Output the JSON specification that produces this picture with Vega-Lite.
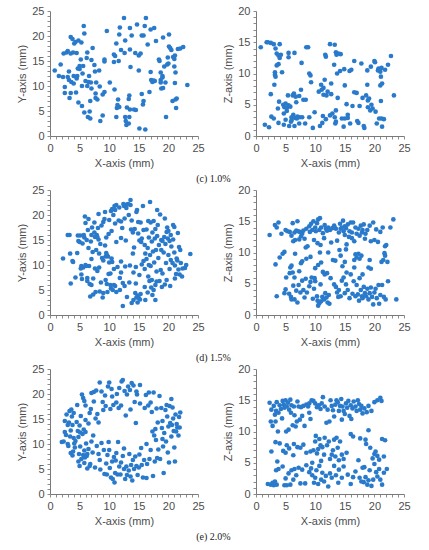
{
  "$schema": "https://vega.github.io/schema/vega-lite/v6.json",
  "padding": {"left": 16, "top": 5, "right": 5, "bottom": 5},
  "background": "white",
  "spacing": 0,
  "config": {
    "view": {"stroke": null},
    "axis": {"grid": false, "domainColor": "#7a7a7a", "tickColor": "#8c8c8c", "labelColor": "#4d4d4d", "titleColor": "#4d4d4d", "labelFont": "Liberation Sans", "titleFont": "Liberation Sans", "labelFontSize": 11, "titleFontSize": 11, "titleFontWeight": "normal", "tickSize": 3, "labelPadding": 3, "labelFlush": false},
    "title": {"font": "Liberation Serif", "fontSize": 10, "fontWeight": "normal", "color": "#222222", "orient": "bottom", "anchor": "middle", "offset": 6},
    "concat": {"spacing": 17},
    "circle": {"size": 22, "opacity": 1, "color": "#2a7acb"}
  },
  "datasets": {
    "c1": [{"x":0.8,"y":13.1},{"x":1.5,"y":12.0},{"x":1.8,"y":14.3},{"x":2.2,"y":11.8},{"x":2.3,"y":16.5},{"x":2.5,"y":9.8},{"x":2.5,"y":8.6},{"x":2.8,"y":16.7},{"x":3.0,"y":11.8},{"x":3.0,"y":17.0},{"x":3.2,"y":12.9},{"x":3.2,"y":11.2},{"x":3.3,"y":7.6},{"x":3.5,"y":8.6},{"x":3.5,"y":16.5},{"x":3.5,"y":19.8},{"x":3.6,"y":10.8},{"x":3.8,"y":19.4},{"x":3.9,"y":16.7},{"x":4.0,"y":12.0},{"x":4.0,"y":10.5},{"x":4.1,"y":18.5},{"x":4.3,"y":18.8},{"x":4.4,"y":8.7},{"x":4.5,"y":16.6},{"x":4.5,"y":11.5},{"x":4.6,"y":12.0},{"x":4.7,"y":13.5},{"x":4.8,"y":19.1},{"x":4.8,"y":6.7},{"x":5.0,"y":14.0},{"x":5.0,"y":13.4},{"x":5.2,"y":15.3},{"x":5.3,"y":18.7},{"x":5.4,"y":10.0},{"x":5.4,"y":6.0},{"x":5.5,"y":12.5},{"x":5.6,"y":14.0},{"x":5.7,"y":22.0},{"x":5.8,"y":20.5},{"x":5.8,"y":4.7},{"x":6.0,"y":11.0},{"x":6.2,"y":15.6},{"x":6.3,"y":16.7},{"x":6.3,"y":10.0},{"x":6.4,"y":3.8},{"x":6.5,"y":10.8},{"x":6.6,"y":12.0},{"x":6.7,"y":4.9},{"x":6.8,"y":3.5},{"x":6.8,"y":7.0},{"x":6.9,"y":10.7},{"x":7.0,"y":9.5},{"x":7.0,"y":15.2},{"x":7.2,"y":17.6},{"x":7.5,"y":14.2},{"x":7.6,"y":12.9},{"x":7.7,"y":8.5},{"x":7.7,"y":7.6},{"x":7.8,"y":10.7},{"x":8.0,"y":7.3},{"x":8.3,"y":13.1},{"x":8.4,"y":9.9},{"x":8.5,"y":3.0},{"x":8.9,"y":4.1},{"x":8.9,"y":8.3},{"x":9.2,"y":8.8},{"x":9.2,"y":14.9},{"x":9.2,"y":15.3},{"x":9.6,"y":21.0},{"x":10.1,"y":10.7},{"x":10.8,"y":14.8},{"x":10.8,"y":16.3},{"x":10.9,"y":9.3},{"x":11.0,"y":16.0},{"x":11.2,"y":3.8},{"x":11.2,"y":18.5},{"x":11.3,"y":5.6},{"x":11.4,"y":6.2},{"x":11.5,"y":7.3},{"x":11.6,"y":15.0},{"x":11.7,"y":5.8},{"x":11.7,"y":20.3},{"x":11.8,"y":21.7},{"x":12.0,"y":17.2},{"x":12.5,"y":23.6},{"x":12.6,"y":16.6},{"x":12.7,"y":19.1},{"x":12.7,"y":3.8},{"x":12.8,"y":3.0},{"x":12.9,"y":2.2},{"x":13.0,"y":5.7},{"x":13.3,"y":7.4},{"x":13.3,"y":2.5},{"x":13.4,"y":3.8},{"x":13.4,"y":8.1},{"x":13.5,"y":5.3},{"x":13.5,"y":17.3},{"x":13.5,"y":21.6},{"x":13.6,"y":13.8},{"x":13.8,"y":20.1},{"x":14.2,"y":5.3},{"x":14.4,"y":16.6},{"x":14.5,"y":5.2},{"x":14.7,"y":22.3},{"x":15.0,"y":16.1},{"x":15.0,"y":13.1},{"x":15.1,"y":1.5},{"x":15.3,"y":16.5},{"x":15.5,"y":8.4},{"x":15.5,"y":20.1},{"x":15.7,"y":6.3},{"x":15.8,"y":20.1},{"x":15.8,"y":7.0},{"x":16.0,"y":22.0},{"x":16.1,"y":1.3},{"x":16.2,"y":23.6},{"x":16.5,"y":18.3},{"x":16.8,"y":8.8},{"x":17.0,"y":21.3},{"x":17.0,"y":12.8},{"x":17.1,"y":11.2},{"x":17.3,"y":10.8},{"x":17.5,"y":11.1},{"x":17.6,"y":21.6},{"x":17.7,"y":11.0},{"x":17.9,"y":19.0},{"x":18.4,"y":15.3},{"x":18.5,"y":15.0},{"x":18.7,"y":11.2},{"x":18.7,"y":12.7},{"x":18.7,"y":10.7},{"x":18.8,"y":9.5},{"x":19.0,"y":12.0},{"x":19.0,"y":11.7},{"x":19.1,"y":9.6},{"x":19.1,"y":19.7},{"x":19.3,"y":13.9},{"x":19.5,"y":10.7},{"x":19.6,"y":3.8},{"x":19.8,"y":14.3},{"x":20.1,"y":20.3},{"x":20.1,"y":17.9},{"x":20.3,"y":17.6},{"x":20.5,"y":17.2},{"x":20.7,"y":7.0},{"x":20.8,"y":15.8},{"x":21.0,"y":15.4},{"x":21.0,"y":13.9},{"x":21.1,"y":16.1},{"x":21.1,"y":10.6},{"x":21.2,"y":12.7},{"x":21.2,"y":7.3},{"x":21.3,"y":5.6},{"x":21.4,"y":7.5},{"x":21.6,"y":17.4},{"x":22.0,"y":17.5},{"x":22.5,"y":17.8},{"x":23.2,"y":10.2},{"x":19.9,"y":15.7},{"x":20.0,"y":14.5}],
    "c2": [{"x":0.8,"y":14.2},{"x":1.5,"y":1.8},{"x":1.8,"y":15.0},{"x":2.0,"y":15.0},{"x":2.2,"y":1.4},{"x":2.5,"y":6.7},{"x":2.5,"y":14.9},{"x":2.6,"y":3.1},{"x":3.0,"y":2.8},{"x":3.0,"y":14.7},{"x":3.1,"y":8.2},{"x":3.2,"y":9.8},{"x":3.2,"y":10.2},{"x":3.3,"y":9.5},{"x":3.3,"y":14.0},{"x":3.5,"y":11.3},{"x":3.5,"y":13.2},{"x":3.7,"y":4.4},{"x":3.8,"y":12.9},{"x":3.8,"y":11.5},{"x":3.8,"y":2.1},{"x":3.9,"y":5.5},{"x":4.0,"y":14.7},{"x":4.0,"y":12.5},{"x":4.2,"y":13.0},{"x":4.4,"y":10.2},{"x":4.6,"y":5.0},{"x":4.7,"y":3.6},{"x":4.7,"y":1.8},{"x":4.8,"y":4.6},{"x":5.0,"y":5.2},{"x":5.0,"y":2.6},{"x":5.2,"y":4.0},{"x":5.2,"y":4.5},{"x":5.4,"y":6.5},{"x":5.5,"y":4.9},{"x":5.5,"y":13.3},{"x":5.5,"y":12.6},{"x":5.6,"y":1.6},{"x":5.8,"y":4.7},{"x":5.9,"y":2.3},{"x":6.0,"y":3.0},{"x":6.0,"y":2.5},{"x":6.2,"y":6.5},{"x":6.3,"y":3.4},{"x":6.4,"y":6.8},{"x":6.5,"y":1.6},{"x":6.5,"y":13.3},{"x":6.6,"y":2.9},{"x":6.7,"y":6.3},{"x":6.8,"y":5.4},{"x":6.9,"y":2.8},{"x":7.0,"y":3.1},{"x":7.3,"y":6.4},{"x":7.3,"y":2.0},{"x":7.4,"y":3.0},{"x":7.6,"y":7.4},{"x":7.7,"y":11.7},{"x":7.8,"y":3.0},{"x":8.0,"y":5.8},{"x":8.3,"y":2.0},{"x":8.4,"y":5.8},{"x":8.5,"y":14.2},{"x":8.8,"y":14.2},{"x":9.0,"y":10.0},{"x":9.0,"y":3.0},{"x":9.2,"y":9.7},{"x":9.3,"y":8.6},{"x":9.6,"y":1.3},{"x":9.9,"y":3.8},{"x":10.6,"y":7.1},{"x":10.8,"y":1.6},{"x":11.0,"y":8.2},{"x":11.1,"y":7.4},{"x":11.2,"y":2.1},{"x":11.3,"y":3.2},{"x":11.4,"y":7.7},{"x":11.4,"y":6.6},{"x":11.6,"y":9.0},{"x":11.7,"y":13.0},{"x":11.8,"y":12.7},{"x":11.8,"y":2.7},{"x":11.9,"y":6.5},{"x":12.1,"y":7.1},{"x":12.5,"y":14.7},{"x":12.5,"y":3.3},{"x":12.7,"y":8.4},{"x":12.7,"y":6.7},{"x":12.9,"y":3.6},{"x":13.2,"y":11.4},{"x":13.3,"y":14.6},{"x":13.3,"y":3.0},{"x":13.4,"y":2.0},{"x":13.5,"y":4.1},{"x":13.5,"y":2.3},{"x":13.5,"y":13.4},{"x":13.6,"y":13.0},{"x":13.7,"y":10.0},{"x":13.8,"y":6.1},{"x":13.9,"y":13.2},{"x":14.2,"y":10.4},{"x":14.3,"y":13.1},{"x":14.5,"y":2.8},{"x":14.8,"y":1.5},{"x":14.9,"y":10.7},{"x":15.0,"y":8.1},{"x":15.0,"y":2.8},{"x":15.3,"y":5.1},{"x":15.5,"y":3.4},{"x":15.5,"y":2.9},{"x":15.8,"y":10.4},{"x":15.9,"y":2.0},{"x":16.1,"y":10.6},{"x":16.3,"y":4.8},{"x":16.6,"y":12.0},{"x":16.6,"y":7.0},{"x":17.0,"y":6.9},{"x":17.1,"y":2.4},{"x":17.3,"y":2.1},{"x":17.5,"y":4.8},{"x":17.8,"y":11.6},{"x":18.0,"y":6.1},{"x":18.2,"y":1.6},{"x":18.3,"y":1.3},{"x":18.6,"y":6.5},{"x":18.8,"y":8.2},{"x":18.8,"y":10.5},{"x":18.9,"y":5.7},{"x":18.9,"y":4.6},{"x":19.1,"y":6.0},{"x":19.3,"y":4.1},{"x":19.4,"y":11.1},{"x":19.5,"y":5.0},{"x":19.7,"y":4.4},{"x":20.0,"y":12.0},{"x":20.2,"y":3.9},{"x":20.4,"y":2.0},{"x":20.6,"y":10.5},{"x":20.7,"y":10.8},{"x":20.8,"y":2.8},{"x":21.0,"y":10.3},{"x":21.0,"y":8.1},{"x":21.1,"y":9.5},{"x":21.1,"y":5.6},{"x":21.2,"y":2.8},{"x":21.2,"y":10.9},{"x":21.3,"y":8.4},{"x":21.3,"y":1.5},{"x":21.6,"y":2.7},{"x":21.8,"y":10.6},{"x":22.3,"y":11.4},{"x":22.8,"y":12.8},{"x":23.3,"y":6.5},{"x":20.1,"y":11.8}],
    "d1": [{"x":2.2,"y":11.3},{"x":3.0,"y":16.0},{"x":3.3,"y":16.0},{"x":3.4,"y":12.3},{"x":3.5,"y":6.3},{"x":3.8,"y":10.8},{"x":3.9,"y":10.6},{"x":4.3,"y":7.5},{"x":4.6,"y":12.4},{"x":4.7,"y":15.9},{"x":4.8,"y":14.8},{"x":5.0,"y":14.6},{"x":5.1,"y":15.9},{"x":5.2,"y":9.3},{"x":5.3,"y":9.8},{"x":5.3,"y":8.1},{"x":5.4,"y":7.2},{"x":5.5,"y":14.3},{"x":5.6,"y":9.5},{"x":5.7,"y":16.0},{"x":5.8,"y":15.5},{"x":5.9,"y":19.7},{"x":6.0,"y":18.4},{"x":6.0,"y":10.0},{"x":6.1,"y":9.8},{"x":6.2,"y":15.0},{"x":6.3,"y":7.4},{"x":6.3,"y":6.8},{"x":6.4,"y":17.0},{"x":6.5,"y":19.2},{"x":6.5,"y":13.4},{"x":6.6,"y":9.8},{"x":6.7,"y":6.2},{"x":6.8,"y":3.7},{"x":6.9,"y":14.7},{"x":7.0,"y":16.0},{"x":7.0,"y":11.2},{"x":7.0,"y":6.0},{"x":7.2,"y":12.6},{"x":7.3,"y":7.3},{"x":7.3,"y":4.1},{"x":7.5,"y":18.5},{"x":7.5,"y":16.5},{"x":7.6,"y":15.6},{"x":7.6,"y":9.3},{"x":7.7,"y":4.6},{"x":7.8,"y":13.0},{"x":7.9,"y":16.0},{"x":8.0,"y":15.6},{"x":8.0,"y":8.8},{"x":8.2,"y":20.2},{"x":8.2,"y":15.1},{"x":8.3,"y":12.3},{"x":8.3,"y":9.5},{"x":8.4,"y":4.7},{"x":8.5,"y":14.2},{"x":8.6,"y":6.5},{"x":8.7,"y":17.9},{"x":8.9,"y":3.5},{"x":9.0,"y":10.9},{"x":9.0,"y":4.4},{"x":9.0,"y":18.6},{"x":9.2,"y":19.2},{"x":9.3,"y":20.6},{"x":9.4,"y":11.7},{"x":9.4,"y":7.0},{"x":9.5,"y":12.4},{"x":9.6,"y":6.2},{"x":9.7,"y":4.6},{"x":9.8,"y":11.7},{"x":9.9,"y":16.2},{"x":9.9,"y":8.2},{"x":10.0,"y":19.0},{"x":10.0,"y":10.5},{"x":10.2,"y":6.0},{"x":10.2,"y":8.3},{"x":10.3,"y":20.8},{"x":10.3,"y":5.3},{"x":10.4,"y":16.8},{"x":10.5,"y":21.2},{"x":10.5,"y":10.6},{"x":10.6,"y":5.0},{"x":10.7,"y":20.0},{"x":10.8,"y":9.2},{"x":10.8,"y":6.0},{"x":10.9,"y":21.8},{"x":11.0,"y":21.0},{"x":11.0,"y":18.3},{"x":11.0,"y":5.8},{"x":11.2,"y":22.0},{"x":11.2,"y":4.6},{"x":11.4,"y":9.6},{"x":11.6,"y":18.9},{"x":11.7,"y":21.5},{"x":11.8,"y":5.0},{"x":11.8,"y":7.4},{"x":12.0,"y":18.7},{"x":12.0,"y":8.5},{"x":12.2,"y":17.4},{"x":12.3,"y":6.4},{"x":12.3,"y":1.8},{"x":12.4,"y":22.2},{"x":12.5,"y":21.8},{"x":12.6,"y":19.3},{"x":12.6,"y":5.8},{"x":12.8,"y":14.9},{"x":12.9,"y":21.4},{"x":13.0,"y":22.1},{"x":13.0,"y":3.6},{"x":13.2,"y":22.2},{"x":13.3,"y":20.0},{"x":13.4,"y":6.5},{"x":13.6,"y":23.0},{"x":13.6,"y":22.0},{"x":13.7,"y":17.1},{"x":13.8,"y":2.4},{"x":14.0,"y":16.5},{"x":14.1,"y":8.5},{"x":14.1,"y":3.0},{"x":14.2,"y":13.5},{"x":14.3,"y":17.2},{"x":14.4,"y":4.4},{"x":14.5,"y":9.6},{"x":14.6,"y":3.5},{"x":14.6,"y":20.6},{"x":14.7,"y":21.0},{"x":14.8,"y":3.9},{"x":14.8,"y":2.5},{"x":14.9,"y":16.3},{"x":15.0,"y":3.4},{"x":15.1,"y":14.9},{"x":15.1,"y":8.0},{"x":15.2,"y":3.1},{"x":15.3,"y":18.5},{"x":15.4,"y":14.6},{"x":15.5,"y":15.3},{"x":15.7,"y":21.8},{"x":15.8,"y":10.8},{"x":16.0,"y":9.2},{"x":16.0,"y":14.0},{"x":16.0,"y":5.6},{"x":16.1,"y":12.3},{"x":16.1,"y":3.0},{"x":16.3,"y":17.1},{"x":16.3,"y":11.2},{"x":16.5,"y":4.5},{"x":16.5,"y":13.4},{"x":16.6,"y":18.8},{"x":16.7,"y":15.5},{"x":16.7,"y":10.0},{"x":16.8,"y":6.8},{"x":16.9,"y":22.6},{"x":16.9,"y":12.0},{"x":17.0,"y":18.5},{"x":17.0,"y":9.8},{"x":17.1,"y":5.5},{"x":17.2,"y":14.7},{"x":17.3,"y":4.0},{"x":17.3,"y":16.5},{"x":17.4,"y":12.7},{"x":17.5,"y":18.8},{"x":17.5,"y":5.0},{"x":17.6,"y":10.5},{"x":17.7,"y":15.3},{"x":17.8,"y":3.0},{"x":17.8,"y":17.2},{"x":17.9,"y":13.0},{"x":18.0,"y":8.7},{"x":18.0,"y":6.7},{"x":18.1,"y":15.8},{"x":18.1,"y":21.0},{"x":18.2,"y":18.0},{"x":18.3,"y":11.4},{"x":18.4,"y":14.0},{"x":18.5,"y":6.8},{"x":18.6,"y":20.1},{"x":18.7,"y":9.0},{"x":18.8,"y":15.0},{"x":18.8,"y":13.0},{"x":18.9,"y":5.6},{"x":19.0,"y":14.8},{"x":19.0,"y":8.3},{"x":19.2,"y":12.5},{"x":19.3,"y":15.6},{"x":19.4,"y":6.1},{"x":19.4,"y":19.3},{"x":19.5,"y":14.2},{"x":19.6,"y":10.4},{"x":19.7,"y":16.6},{"x":19.7,"y":7.0},{"x":19.8,"y":17.5},{"x":19.9,"y":15.3},{"x":20.0,"y":12.0},{"x":20.0,"y":16.8},{"x":20.2,"y":14.8},{"x":20.2,"y":9.2},{"x":20.3,"y":5.8},{"x":20.4,"y":16.0},{"x":20.4,"y":11.0},{"x":20.5,"y":13.7},{"x":20.7,"y":10.4},{"x":20.8,"y":18.0},{"x":20.8,"y":15.1},{"x":21.0,"y":17.6},{"x":21.0,"y":12.5},{"x":21.1,"y":9.9},{"x":21.1,"y":7.3},{"x":21.3,"y":8.2},{"x":21.4,"y":11.3},{"x":21.5,"y":10.9},{"x":21.6,"y":16.4},{"x":21.7,"y":9.1},{"x":21.8,"y":13.6},{"x":21.9,"y":8.1},{"x":22.0,"y":13.0},{"x":22.1,"y":10.4},{"x":22.3,"y":7.7},{"x":22.4,"y":9.3},{"x":22.8,"y":9.4},{"x":23.0,"y":10.0},{"x":23.7,"y":12.2},{"x":7.1,"y":17.5},{"x":8.1,"y":17.4},{"x":9.5,"y":15.5},{"x":12.0,"y":15.4},{"x":13.5,"y":9.9},{"x":14.0,"y":12.3},{"x":15.5,"y":10.1},{"x":14.5,"y":6.3},{"x":15.3,"y":4.2},{"x":16.6,"y":7.7},{"x":17.2,"y":7.0},{"x":17.8,"y":6.0},{"x":9.6,"y":12.0},{"x":10.4,"y":11.3},{"x":8.8,"y":11.4},{"x":11.2,"y":14.6},{"x":13.8,"y":18.9},{"x":15.8,"y":17.0},{"x":14.9,"y":18.6},{"x":12.7,"y":9.7},{"x":12.0,"y":10.7},{"x":9.3,"y":13.9}],
    "d2": [{"x":2.3,"y":12.8},{"x":3.2,"y":14.4},{"x":3.5,"y":14.0},{"x":3.8,"y":14.8},{"x":4.3,"y":13.0},{"x":5.0,"y":13.6},{"x":5.3,"y":13.4},{"x":5.7,"y":13.3},{"x":6.0,"y":12.7},{"x":6.2,"y":14.7},{"x":6.3,"y":11.8},{"x":6.5,"y":13.2},{"x":6.6,"y":12.0},{"x":6.8,"y":13.5},{"x":7.0,"y":15.0},{"x":7.1,"y":13.4},{"x":7.3,"y":12.1},{"x":7.4,"y":13.3},{"x":7.6,"y":12.6},{"x":7.8,"y":13.0},{"x":8.0,"y":13.5},{"x":8.2,"y":12.2},{"x":8.5,"y":13.8},{"x":8.7,"y":11.0},{"x":9.0,"y":14.2},{"x":9.1,"y":13.3},{"x":9.3,"y":14.6},{"x":9.5,"y":13.6},{"x":9.7,"y":15.0},{"x":9.8,"y":12.0},{"x":10.0,"y":14.0},{"x":10.1,"y":13.4},{"x":10.3,"y":14.7},{"x":10.4,"y":11.5},{"x":10.5,"y":15.3},{"x":10.7,"y":13.6},{"x":10.8,"y":15.5},{"x":10.9,"y":11.2},{"x":11.0,"y":14.0},{"x":11.3,"y":13.1},{"x":11.5,"y":12.3},{"x":11.8,"y":13.8},{"x":12.0,"y":13.5},{"x":12.2,"y":14.0},{"x":12.5,"y":13.6},{"x":12.7,"y":11.6},{"x":12.9,"y":13.9},{"x":13.2,"y":14.3},{"x":13.5,"y":13.8},{"x":13.7,"y":11.9},{"x":14.0,"y":13.2},{"x":14.2,"y":14.6},{"x":14.3,"y":13.8},{"x":14.5,"y":14.0},{"x":14.7,"y":15.1},{"x":14.8,"y":13.4},{"x":15.0,"y":14.2},{"x":15.2,"y":13.9},{"x":15.3,"y":11.3},{"x":15.5,"y":14.5},{"x":15.7,"y":12.5},{"x":15.8,"y":13.4},{"x":16.0,"y":14.8},{"x":16.2,"y":12.3},{"x":16.4,"y":14.8},{"x":16.6,"y":11.8},{"x":16.8,"y":14.0},{"x":17.0,"y":13.0},{"x":17.3,"y":13.8},{"x":17.5,"y":12.7},{"x":17.7,"y":14.3},{"x":18.0,"y":13.6},{"x":18.2,"y":14.5},{"x":18.4,"y":12.2},{"x":18.5,"y":13.0},{"x":18.8,"y":13.6},{"x":19.2,"y":14.3},{"x":19.4,"y":11.8},{"x":19.8,"y":14.8},{"x":20.0,"y":12.0},{"x":20.3,"y":13.7},{"x":20.6,"y":11.7},{"x":21.0,"y":13.3},{"x":21.4,"y":14.0},{"x":21.8,"y":11.0},{"x":22.0,"y":11.2},{"x":22.7,"y":14.0},{"x":23.2,"y":15.3},{"x":13.3,"y":14.0},{"x":17.9,"y":13.2},{"x":15.0,"y":12.8},{"x":16.2,"y":13.2},{"x":11.6,"y":14.4},{"x":3.3,"y":8.1},{"x":4.0,"y":9.2},{"x":4.5,"y":9.8},{"x":4.8,"y":10.1},{"x":5.7,"y":6.7},{"x":5.8,"y":7.6},{"x":6.0,"y":7.9},{"x":6.2,"y":6.8},{"x":6.6,"y":9.8},{"x":7.3,"y":7.0},{"x":7.6,"y":8.3},{"x":7.8,"y":8.6},{"x":8.4,"y":10.8},{"x":8.5,"y":9.0},{"x":9.2,"y":9.3},{"x":10.0,"y":7.5},{"x":10.5,"y":8.0},{"x":10.8,"y":10.0},{"x":11.0,"y":8.4},{"x":11.3,"y":6.9},{"x":12.0,"y":6.7},{"x":12.2,"y":10.0},{"x":13.0,"y":8.8},{"x":13.4,"y":8.7},{"x":14.1,"y":10.4},{"x":14.3,"y":9.5},{"x":14.6,"y":7.8},{"x":15.0,"y":8.5},{"x":15.2,"y":10.5},{"x":16.6,"y":8.8},{"x":16.8,"y":9.7},{"x":17.0,"y":9.2},{"x":17.3,"y":9.8},{"x":17.5,"y":9.0},{"x":17.8,"y":9.5},{"x":18.0,"y":6.5},{"x":19.0,"y":7.6},{"x":19.4,"y":7.4},{"x":19.2,"y":8.8},{"x":21.2,"y":8.5},{"x":21.5,"y":8.8},{"x":21.8,"y":9.5},{"x":22.2,"y":8.5},{"x":21.7,"y":9.9},{"x":16.6,"y":7.6},{"x":15.3,"y":6.8},{"x":3.5,"y":3.0},{"x":4.8,"y":3.5},{"x":5.0,"y":4.1},{"x":5.1,"y":6.0},{"x":5.6,"y":3.4},{"x":5.9,"y":2.9},{"x":6.3,"y":4.7},{"x":6.5,"y":6.0},{"x":6.5,"y":2.5},{"x":6.8,"y":3.9},{"x":7.0,"y":2.0},{"x":7.2,"y":4.8},{"x":7.5,"y":3.6},{"x":7.8,"y":5.5},{"x":8.0,"y":4.0},{"x":8.2,"y":2.8},{"x":8.4,"y":5.8},{"x":8.6,"y":3.6},{"x":9.0,"y":4.6},{"x":9.2,"y":5.3},{"x":9.4,"y":6.0},{"x":9.6,"y":2.6},{"x":9.8,"y":4.2},{"x":10.0,"y":5.4},{"x":10.3,"y":3.0},{"x":10.5,"y":1.5},{"x":10.7,"y":1.9},{"x":10.9,"y":4.9},{"x":11.0,"y":2.2},{"x":11.2,"y":2.9},{"x":11.5,"y":2.5},{"x":11.7,"y":3.5},{"x":11.9,"y":2.8},{"x":12.1,"y":2.0},{"x":12.3,"y":3.2},{"x":12.4,"y":1.8},{"x":12.6,"y":5.9},{"x":13.2,"y":4.9},{"x":13.5,"y":4.5},{"x":13.7,"y":3.6},{"x":14.0,"y":4.0},{"x":14.3,"y":3.0},{"x":14.5,"y":5.5},{"x":14.8,"y":6.0},{"x":15.0,"y":3.5},{"x":15.2,"y":4.9},{"x":15.5,"y":4.0},{"x":15.8,"y":2.7},{"x":16.0,"y":6.5},{"x":16.3,"y":3.4},{"x":16.5,"y":5.4},{"x":16.8,"y":3.0},{"x":17.0,"y":4.8},{"x":17.2,"y":3.3},{"x":17.4,"y":2.3},{"x":17.5,"y":5.9},{"x":17.7,"y":4.0},{"x":17.9,"y":3.0},{"x":18.0,"y":2.7},{"x":18.2,"y":4.5},{"x":18.4,"y":3.5},{"x":18.6,"y":3.0},{"x":18.8,"y":4.2},{"x":19.0,"y":2.5},{"x":19.2,"y":3.5},{"x":19.4,"y":4.4},{"x":19.6,"y":2.9},{"x":19.8,"y":1.7},{"x":20.0,"y":3.6},{"x":20.2,"y":4.2},{"x":20.4,"y":2.7},{"x":20.7,"y":4.8},{"x":21.0,"y":3.2},{"x":21.3,"y":4.8},{"x":21.6,"y":2.9},{"x":21.9,"y":2.5},{"x":22.3,"y":5.4},{"x":23.7,"y":2.5},{"x":9.9,"y":5.9},{"x":10.4,"y":2.3},{"x":11.6,"y":6.5},{"x":6.0,"y":2.5},{"x":13.9,"y":2.9},{"x":20.8,"y":1.8}],
    "e1": [{"x":2.0,"y":10.4},{"x":2.3,"y":10.5},{"x":2.5,"y":12.4},{"x":2.5,"y":14.6},{"x":2.7,"y":11.8},{"x":2.8,"y":15.9},{"x":3.0,"y":13.8},{"x":3.0,"y":10.0},{"x":3.1,"y":9.6},{"x":3.2,"y":14.3},{"x":3.3,"y":16.6},{"x":3.4,"y":11.5},{"x":3.5,"y":8.2},{"x":3.5,"y":12.7},{"x":3.6,"y":16.9},{"x":3.7,"y":15.5},{"x":3.8,"y":13.8},{"x":3.8,"y":7.7},{"x":4.0,"y":11.2},{"x":4.0,"y":16.2},{"x":4.1,"y":10.1},{"x":4.2,"y":9.3},{"x":4.5,"y":14.4},{"x":4.6,"y":17.8},{"x":4.7,"y":12.6},{"x":4.8,"y":6.5},{"x":4.8,"y":11.4},{"x":4.9,"y":8.0},{"x":5.0,"y":5.6},{"x":5.0,"y":13.7},{"x":5.1,"y":12.3},{"x":5.2,"y":15.6},{"x":5.3,"y":7.0},{"x":5.4,"y":19.9},{"x":5.5,"y":12.0},{"x":5.6,"y":7.8},{"x":5.6,"y":19.2},{"x":5.7,"y":12.9},{"x":5.8,"y":8.7},{"x":5.8,"y":6.2},{"x":5.9,"y":7.3},{"x":6.0,"y":12.4},{"x":6.0,"y":17.7},{"x":6.1,"y":10.1},{"x":6.2,"y":7.6},{"x":6.3,"y":8.0},{"x":6.3,"y":5.1},{"x":6.5,"y":9.0},{"x":6.7,"y":16.2},{"x":6.8,"y":6.0},{"x":6.9,"y":17.0},{"x":7.0,"y":20.2},{"x":7.2,"y":8.3},{"x":7.4,"y":20.4},{"x":7.4,"y":18.5},{"x":7.6,"y":5.3},{"x":7.7,"y":15.1},{"x":7.8,"y":20.7},{"x":7.9,"y":9.6},{"x":8.0,"y":16.0},{"x":8.2,"y":8.0},{"x":8.4,"y":22.3},{"x":8.4,"y":6.8},{"x":8.5,"y":4.9},{"x":8.7,"y":20.5},{"x":8.9,"y":18.4},{"x":9.1,"y":8.8},{"x":9.3,"y":19.7},{"x":9.4,"y":17.6},{"x":9.5,"y":6.1},{"x":9.6,"y":3.9},{"x":9.8,"y":21.5},{"x":9.9,"y":10.4},{"x":10.0,"y":22.3},{"x":10.0,"y":8.8},{"x":10.1,"y":5.2},{"x":10.2,"y":17.0},{"x":10.3,"y":3.3},{"x":10.4,"y":21.0},{"x":10.5,"y":6.5},{"x":10.6,"y":3.0},{"x":10.7,"y":17.8},{"x":10.8,"y":7.4},{"x":10.9,"y":2.3},{"x":11.0,"y":4.2},{"x":11.1,"y":6.7},{"x":11.2,"y":18.3},{"x":11.3,"y":20.0},{"x":11.4,"y":3.9},{"x":11.5,"y":10.4},{"x":11.6,"y":17.2},{"x":11.7,"y":5.5},{"x":11.9,"y":3.9},{"x":12.0,"y":6.3},{"x":12.1,"y":22.5},{"x":12.3,"y":22.8},{"x":12.3,"y":7.6},{"x":12.5,"y":5.0},{"x":12.6,"y":20.6},{"x":12.7,"y":3.0},{"x":12.8,"y":15.7},{"x":12.9,"y":5.5},{"x":13.0,"y":19.9},{"x":13.2,"y":21.5},{"x":13.3,"y":4.7},{"x":13.4,"y":8.0},{"x":13.5,"y":20.8},{"x":13.6,"y":3.5},{"x":13.7,"y":5.8},{"x":13.8,"y":22.2},{"x":13.9,"y":2.7},{"x":14.0,"y":6.8},{"x":14.1,"y":21.7},{"x":14.2,"y":5.0},{"x":14.3,"y":18.4},{"x":14.4,"y":7.5},{"x":14.5,"y":14.2},{"x":14.6,"y":5.6},{"x":14.7,"y":19.9},{"x":14.8,"y":3.8},{"x":15.0,"y":5.3},{"x":15.1,"y":7.9},{"x":15.2,"y":18.1},{"x":15.4,"y":9.2},{"x":15.5,"y":5.8},{"x":15.7,"y":3.3},{"x":15.9,"y":6.8},{"x":16.0,"y":17.2},{"x":16.2,"y":19.8},{"x":16.3,"y":3.2},{"x":16.4,"y":6.0},{"x":16.6,"y":17.7},{"x":16.7,"y":20.3},{"x":16.8,"y":7.0},{"x":17.0,"y":18.3},{"x":17.2,"y":16.4},{"x":17.3,"y":12.5},{"x":17.4,"y":3.6},{"x":17.5,"y":20.3},{"x":17.6,"y":11.7},{"x":17.7,"y":6.5},{"x":17.8,"y":13.0},{"x":17.9,"y":10.8},{"x":18.0,"y":17.1},{"x":18.1,"y":7.2},{"x":18.2,"y":14.3},{"x":18.3,"y":8.9},{"x":18.5,"y":19.6},{"x":18.6,"y":7.0},{"x":18.8,"y":17.2},{"x":18.9,"y":13.2},{"x":19.0,"y":14.6},{"x":19.1,"y":9.5},{"x":19.2,"y":4.2},{"x":19.3,"y":12.2},{"x":19.5,"y":16.8},{"x":19.6,"y":10.5},{"x":19.7,"y":17.8},{"x":19.8,"y":15.5},{"x":19.9,"y":8.3},{"x":20.0,"y":13.5},{"x":20.1,"y":6.3},{"x":20.2,"y":17.6},{"x":20.3,"y":14.2},{"x":20.5,"y":11.5},{"x":20.6,"y":13.8},{"x":20.7,"y":17.3},{"x":20.8,"y":15.1},{"x":20.9,"y":12.6},{"x":21.0,"y":9.3},{"x":21.1,"y":6.5},{"x":21.2,"y":15.9},{"x":21.4,"y":14.0},{"x":21.5,"y":13.3},{"x":21.7,"y":11.7},{"x":21.8,"y":15.4},{"x":21.9,"y":13.3},{"x":22.0,"y":16.3},{"x":21.3,"y":12.5},{"x":20.5,"y":19.0},{"x":15.2,"y":21.8},{"x":13.6,"y":16.9},{"x":11.7,"y":21.2},{"x":9.0,"y":16.8},{"x":8.2,"y":14.3},{"x":7.0,"y":10.5},{"x":6.5,"y":14.1},{"x":7.3,"y":11.7},{"x":6.0,"y":14.8},{"x":5.8,"y":18.6},{"x":9.7,"y":7.8},{"x":11.2,"y":8.2},{"x":12.5,"y":9.1},{"x":8.7,"y":10.2},{"x":16.3,"y":10.0},{"x":17.0,"y":8.8},{"x":19.0,"y":11.0},{"x":14.6,"y":20.5},{"x":12.0,"y":17.7},{"x":10.5,"y":19.5},{"x":4.3,"y":10.6},{"x":3.9,"y":8.5},{"x":5.1,"y":9.5},{"x":6.7,"y":5.6},{"x":9.2,"y":4.0},{"x":13.0,"y":3.8}],
    "e2": [{"x":2.3,"y":14.6},{"x":2.5,"y":11.6},{"x":2.6,"y":13.5},{"x":2.8,"y":10.9},{"x":3.0,"y":14.1},{"x":3.2,"y":12.7},{"x":3.3,"y":11.6},{"x":3.4,"y":13.3},{"x":3.5,"y":14.7},{"x":3.7,"y":10.0},{"x":3.8,"y":13.0},{"x":4.0,"y":14.2},{"x":4.2,"y":13.6},{"x":4.4,"y":12.1},{"x":4.5,"y":14.9},{"x":4.7,"y":14.3},{"x":4.8,"y":13.8},{"x":5.0,"y":15.0},{"x":5.1,"y":10.0},{"x":5.2,"y":14.0},{"x":5.4,"y":14.6},{"x":5.5,"y":10.3},{"x":5.6,"y":13.5},{"x":5.8,"y":15.1},{"x":6.0,"y":14.2},{"x":6.2,"y":11.0},{"x":6.4,"y":14.0},{"x":6.5,"y":12.6},{"x":6.7,"y":10.8},{"x":6.9,"y":11.6},{"x":7.0,"y":14.8},{"x":7.2,"y":14.0},{"x":7.4,"y":11.9},{"x":7.6,"y":13.9},{"x":7.8,"y":12.5},{"x":8.0,"y":14.1},{"x":8.2,"y":10.9},{"x":8.5,"y":14.3},{"x":8.8,"y":14.0},{"x":9.0,"y":13.0},{"x":9.2,"y":12.0},{"x":9.4,"y":15.0},{"x":9.7,"y":14.9},{"x":10.0,"y":14.5},{"x":10.3,"y":13.9},{"x":10.6,"y":14.2},{"x":10.9,"y":13.6},{"x":11.1,"y":14.5},{"x":11.3,"y":15.5},{"x":11.6,"y":14.0},{"x":11.9,"y":11.4},{"x":12.1,"y":13.5},{"x":12.4,"y":11.6},{"x":12.6,"y":15.0},{"x":12.8,"y":14.1},{"x":13.0,"y":13.4},{"x":13.2,"y":12.4},{"x":13.4,"y":14.3},{"x":13.6,"y":15.0},{"x":13.8,"y":14.7},{"x":14.0,"y":13.3},{"x":14.2,"y":14.1},{"x":14.4,"y":15.2},{"x":14.6,"y":14.0},{"x":14.8,"y":13.3},{"x":15.0,"y":12.8},{"x":15.2,"y":14.5},{"x":15.4,"y":13.8},{"x":15.6,"y":14.9},{"x":15.8,"y":12.5},{"x":16.0,"y":14.2},{"x":16.3,"y":13.7},{"x":16.5,"y":14.8},{"x":16.8,"y":14.0},{"x":17.0,"y":13.3},{"x":17.2,"y":15.0},{"x":17.4,"y":14.4},{"x":17.6,"y":13.5},{"x":17.8,"y":14.1},{"x":18.0,"y":12.9},{"x":18.3,"y":13.7},{"x":18.7,"y":13.1},{"x":19.0,"y":14.1},{"x":19.5,"y":13.3},{"x":20.0,"y":14.7},{"x":20.5,"y":15.0},{"x":21.0,"y":15.4},{"x":21.2,"y":14.9},{"x":16.1,"y":12.0},{"x":14.5,"y":11.9},{"x":5.9,"y":13.0},{"x":9.0,"y":14.5},{"x":2.6,"y":6.8},{"x":3.3,"y":8.3},{"x":3.6,"y":5.2},{"x":4.0,"y":8.1},{"x":4.6,"y":6.9},{"x":5.0,"y":6.6},{"x":5.2,"y":7.8},{"x":5.6,"y":7.3},{"x":6.3,"y":6.2},{"x":6.4,"y":8.0},{"x":7.0,"y":7.5},{"x":7.5,"y":7.4},{"x":8.0,"y":7.9},{"x":8.5,"y":6.6},{"x":9.2,"y":6.8},{"x":9.5,"y":5.0},{"x":9.7,"y":7.0},{"x":10.0,"y":8.4},{"x":10.3,"y":6.5},{"x":10.5,"y":7.2},{"x":10.7,"y":8.8},{"x":10.9,"y":7.8},{"x":11.0,"y":5.3},{"x":11.2,"y":7.5},{"x":11.5,"y":6.3},{"x":11.6,"y":9.0},{"x":12.0,"y":7.8},{"x":12.3,"y":8.4},{"x":12.5,"y":5.6},{"x":12.8,"y":6.3},{"x":13.0,"y":7.0},{"x":13.2,"y":8.7},{"x":13.4,"y":6.0},{"x":13.6,"y":9.0},{"x":13.8,"y":7.4},{"x":14.0,"y":5.4},{"x":14.2,"y":8.4},{"x":14.5,"y":6.3},{"x":14.8,"y":5.6},{"x":15.3,"y":6.6},{"x":16.0,"y":9.6},{"x":16.4,"y":9.2},{"x":17.3,"y":5.4},{"x":17.6,"y":8.9},{"x":18.5,"y":8.7},{"x":19.0,"y":10.2},{"x":19.3,"y":7.4},{"x":20.0,"y":6.4},{"x":20.2,"y":6.8},{"x":20.5,"y":6.1},{"x":20.8,"y":5.5},{"x":21.3,"y":8.8},{"x":21.8,"y":8.6},{"x":21.6,"y":6.0},{"x":18.6,"y":8.0},{"x":19.7,"y":5.7},{"x":10.1,"y":9.3},{"x":2.0,"y":1.6},{"x":2.5,"y":1.5},{"x":2.8,"y":1.8},{"x":3.0,"y":1.4},{"x":3.2,"y":2.0},{"x":3.4,"y":3.8},{"x":3.5,"y":1.5},{"x":3.8,"y":4.0},{"x":4.5,"y":4.4},{"x":4.8,"y":1.4},{"x":5.0,"y":2.5},{"x":5.2,"y":1.4},{"x":5.5,"y":3.3},{"x":5.8,"y":1.5},{"x":6.0,"y":3.8},{"x":6.3,"y":2.3},{"x":6.5,"y":4.0},{"x":6.8,"y":3.0},{"x":7.2,"y":4.2},{"x":7.5,"y":1.7},{"x":7.8,"y":3.9},{"x":8.3,"y":1.7},{"x":8.5,"y":4.6},{"x":9.0,"y":3.5},{"x":9.3,"y":4.1},{"x":9.8,"y":1.8},{"x":10.0,"y":2.6},{"x":10.2,"y":3.8},{"x":10.5,"y":1.6},{"x":10.7,"y":4.5},{"x":11.0,"y":2.3},{"x":11.2,"y":3.4},{"x":11.5,"y":2.0},{"x":11.8,"y":2.9},{"x":12.2,"y":1.2},{"x":12.5,"y":3.3},{"x":12.8,"y":2.6},{"x":13.2,"y":4.5},{"x":13.5,"y":3.0},{"x":14.0,"y":3.9},{"x":14.5,"y":2.6},{"x":14.8,"y":4.4},{"x":15.5,"y":3.1},{"x":16.0,"y":1.6},{"x":16.4,"y":2.7},{"x":16.8,"y":3.6},{"x":17.5,"y":2.6},{"x":17.8,"y":2.0},{"x":18.0,"y":4.2},{"x":18.2,"y":1.9},{"x":18.5,"y":2.7},{"x":18.8,"y":1.5},{"x":19.0,"y":2.2},{"x":19.2,"y":3.8},{"x":19.5,"y":1.3},{"x":19.8,"y":2.3},{"x":20.0,"y":4.8},{"x":20.3,"y":3.5},{"x":20.5,"y":2.8},{"x":20.8,"y":4.0},{"x":21.0,"y":2.3},{"x":21.3,"y":1.5},{"x":21.6,"y":3.4},{"x":22.1,"y":4.0},{"x":18.3,"y":4.3},{"x":13.9,"y":1.8},{"x":9.5,"y":3.0}]
  },
  "vconcat": [
    {
      "title": {"text": "(c) 1.0%"},
      "hconcat": [
        {"width": 148, "height": 125, "data": {"name": "c1"}, "mark": {"type": "circle"},
         "encoding": {
           "x": {"field": "x", "type": "quantitative", "scale": {"domain": [0, 25], "nice": false}, "axis": {"title": "X-axis (mm)", "values": [0,1,2,3,4,5,6,7,8,9,10,11,12,13,14,15,16,17,18,19,20,21,22,23,24,25], "labelExpr": "datum.value % 5 === 0 ? datum.label : ''"}},
           "y": {"field": "y", "type": "quantitative", "scale": {"domain": [0, 25], "nice": false}, "axis": {"title": "Y-axis (mm)", "values": [0,1,2,3,4,5,6,7,8,9,10,11,12,13,14,15,16,17,18,19,20,21,22,23,24,25], "labelExpr": "datum.value % 5 === 0 ? datum.label : ''"}}
         }},
        {"width": 148, "height": 125, "data": {"name": "c2"}, "mark": {"type": "circle"},
         "encoding": {
           "x": {"field": "x", "type": "quantitative", "scale": {"domain": [0, 25], "nice": false}, "axis": {"title": "X-axis (mm)", "values": [0,1,2,3,4,5,6,7,8,9,10,11,12,13,14,15,16,17,18,19,20,21,22,23,24,25], "labelExpr": "datum.value % 5 === 0 ? datum.label : ''"}},
           "y": {"field": "y", "type": "quantitative", "scale": {"domain": [0, 20], "nice": false}, "axis": {"title": "Z-axis (mm)", "values": [0,1,2,3,4,5,6,7,8,9,10,11,12,13,14,15,16,17,18,19,20], "labelExpr": "datum.value % 5 === 0 ? datum.label : ''"}}
         }}
      ]
    },
    {
      "title": {"text": "(d) 1.5%"},
      "hconcat": [
        {"width": 148, "height": 125, "data": {"name": "d1"}, "mark": {"type": "circle"},
         "encoding": {
           "x": {"field": "x", "type": "quantitative", "scale": {"domain": [0, 25], "nice": false}, "axis": {"title": "X-axis (mm)", "values": [0,1,2,3,4,5,6,7,8,9,10,11,12,13,14,15,16,17,18,19,20,21,22,23,24,25], "labelExpr": "datum.value % 5 === 0 ? datum.label : ''"}},
           "y": {"field": "y", "type": "quantitative", "scale": {"domain": [0, 25], "nice": false}, "axis": {"title": "Y-axis (mm)", "values": [0,1,2,3,4,5,6,7,8,9,10,11,12,13,14,15,16,17,18,19,20,21,22,23,24,25], "labelExpr": "datum.value % 5 === 0 ? datum.label : ''"}}
         }},
        {"width": 148, "height": 125, "data": {"name": "d2"}, "mark": {"type": "circle"},
         "encoding": {
           "x": {"field": "x", "type": "quantitative", "scale": {"domain": [0, 25], "nice": false}, "axis": {"title": "X-axis (mm)", "values": [0,1,2,3,4,5,6,7,8,9,10,11,12,13,14,15,16,17,18,19,20,21,22,23,24,25], "labelExpr": "datum.value % 5 === 0 ? datum.label : ''"}},
           "y": {"field": "y", "type": "quantitative", "scale": {"domain": [0, 20], "nice": false}, "axis": {"title": "Z-axis (mm)", "values": [0,1,2,3,4,5,6,7,8,9,10,11,12,13,14,15,16,17,18,19,20], "labelExpr": "datum.value % 5 === 0 ? datum.label : ''"}}
         }}
      ]
    },
    {
      "title": {"text": "(e) 2.0%"},
      "hconcat": [
        {"width": 148, "height": 125, "data": {"name": "e1"}, "mark": {"type": "circle"},
         "encoding": {
           "x": {"field": "x", "type": "quantitative", "scale": {"domain": [0, 25], "nice": false}, "axis": {"title": "X-axis (mm)", "values": [0,1,2,3,4,5,6,7,8,9,10,11,12,13,14,15,16,17,18,19,20,21,22,23,24,25], "labelExpr": "datum.value % 5 === 0 ? datum.label : ''"}},
           "y": {"field": "y", "type": "quantitative", "scale": {"domain": [0, 25], "nice": false}, "axis": {"title": "Y-axis (mm)", "values": [0,1,2,3,4,5,6,7,8,9,10,11,12,13,14,15,16,17,18,19,20,21,22,23,24,25], "labelExpr": "datum.value % 5 === 0 ? datum.label : ''"}}
         }},
        {"width": 148, "height": 125, "data": {"name": "e2"}, "mark": {"type": "circle"},
         "encoding": {
           "x": {"field": "x", "type": "quantitative", "scale": {"domain": [0, 25], "nice": false}, "axis": {"title": "X-axis (mm)", "values": [0,1,2,3,4,5,6,7,8,9,10,11,12,13,14,15,16,17,18,19,20,21,22,23,24,25], "labelExpr": "datum.value % 5 === 0 ? datum.label : ''"}},
           "y": {"field": "y", "type": "quantitative", "scale": {"domain": [0, 20], "nice": false}, "axis": {"title": "Z-axis (mm)", "values": [0,1,2,3,4,5,6,7,8,9,10,11,12,13,14,15,16,17,18,19,20], "labelExpr": "datum.value % 5 === 0 ? datum.label : ''"}}
         }}
      ]
    }
  ]
}
